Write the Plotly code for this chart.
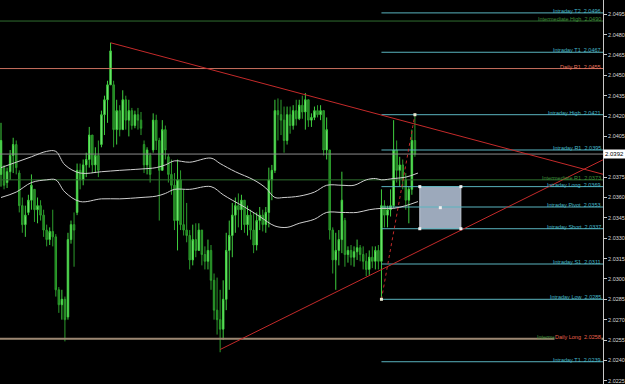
import plotly.graph_objects as go

# ---------------- data ----------------
candle_open = [2.0377,2.0382,2.0371,2.0379,2.0391,2.0399,2.0378,2.0354,2.0340,2.0349,
               2.0358,2.0366,2.0351,2.0354,2.0347,2.0336,2.0329,2.0335,2.0331,2.0292,
               2.0281,2.0285,2.0272,2.0329,2.0340,2.0349,2.0380,2.0373,2.0384,2.0388,
               2.0406,2.0384,2.0391,2.0399,2.0421,2.0432,2.0443,2.0443,2.0410,2.0424,
               2.0410,2.0432,2.0417,2.0424,2.0413,2.0421,2.0417,2.0399,2.0384,2.0391,
               2.0395,2.0417,2.0402,2.0380,2.0410,2.0390,2.0377,2.0369,2.0343,2.0373,
               2.0340,2.0336,2.0332,2.0314,2.0329,2.0321,2.0336,2.0318,2.0313,2.0321,
               2.0299,2.0277,2.0270,2.0263,2.0285,2.0321,2.0332,2.0347,2.0354,2.0351,
               2.0358,2.0340,2.0347,2.0336,2.0325,2.0343,2.0347,2.0340,2.0349,2.0373,
               2.0380,2.0424,2.0421,2.0417,2.0402,2.0421,2.0413,2.0424,2.0418,2.0428,
               2.0423,2.0432,2.0417,2.0419,2.0424,2.0421,2.0424,2.0395,2.0395,2.0336,
               2.0314,2.0321,2.0329,2.0343,2.0318,2.0321,2.0316,2.0320,2.0323,2.0318,
               2.0313,2.0307,2.0316,2.0313,2.0321,2.0313,2.0354,2.0347,2.0351,2.0354,
               2.0395,2.0380,2.0384,2.0373,2.0358,2.0366,2.0402]
candle_high = [2.0415,2.0384,2.0382,2.0395,2.0404,2.0402,2.0380,2.0360,2.0354,2.0362,
               2.0377,2.0366,2.0360,2.0358,2.0351,2.0340,2.0338,2.0351,2.0333,2.0294,
               2.0292,2.0287,2.0334,2.0343,2.0349,2.0385,2.0385,2.0388,2.0393,2.0412,
               2.0406,2.0397,2.0402,2.0424,2.0435,2.0446,2.0474,2.0446,2.0432,2.0428,
               2.0439,2.0435,2.0432,2.0426,2.0424,2.0426,2.0423,2.0402,2.0397,2.0393,
               2.0422,2.0421,2.0404,2.0417,2.0413,2.0392,2.0388,2.0378,2.0388,2.0380,
               2.0366,2.0356,2.0336,2.0340,2.0341,2.0341,2.0336,2.0324,2.0329,2.0325,
               2.0304,2.0301,2.0292,2.0299,2.0334,2.0343,2.0356,2.0360,2.0363,2.0362,
               2.0358,2.0354,2.0351,2.0349,2.0349,2.0353,2.0351,2.0353,2.0382,2.0384,
               2.0432,2.0433,2.0432,2.0427,2.0427,2.0427,2.0428,2.0432,2.0432,2.0435,
               2.0437,2.0432,2.0422,2.0427,2.0428,2.0428,2.0424,2.0419,2.0395,2.0338,
               2.0334,2.0336,2.0379,2.0345,2.0324,2.0325,2.0324,2.0329,2.0325,2.0324,
               2.0319,2.0321,2.0324,2.0324,2.0325,2.0366,2.0358,2.0354,2.0366,2.0417,
               2.0402,2.0390,2.0388,2.0378,2.0368,2.0410,2.0421]
candle_low = [2.0368,2.0366,2.0367,2.0373,2.0378,2.0377,2.0349,2.0334,2.0331,2.0347,
              2.0351,2.0342,2.0341,2.0343,2.0331,2.0324,2.0325,2.0324,2.0287,2.0275,
              2.0270,2.0254,2.0270,2.0326,2.0309,2.0347,2.0366,2.0369,2.0375,2.0382,
              2.0378,2.0378,2.0375,2.0397,2.0406,2.0415,2.0443,2.0397,2.0399,2.0405,
              2.0410,2.0410,2.0405,2.0410,2.0411,2.0410,2.0406,2.0378,2.0377,2.0371,
              2.0393,2.0395,2.0343,2.0380,2.0388,2.0371,2.0362,2.0336,2.0321,2.0336,
              2.0332,2.0327,2.0307,2.0310,2.0316,2.0321,2.0310,2.0307,2.0307,2.0292,
              2.0270,2.0259,2.0246,2.0255,2.0277,2.0292,2.0316,2.0334,2.0338,2.0336,
              2.0334,2.0332,2.0329,2.0319,2.0321,2.0336,2.0335,2.0334,2.0338,2.0358,
              2.0378,2.0402,2.0406,2.0393,2.0399,2.0407,2.0410,2.0413,2.0417,2.0418,
              2.0410,2.0412,2.0412,2.0417,2.0419,2.0417,2.0391,2.0388,2.0329,2.0304,
              2.0292,2.0310,2.0319,2.0309,2.0312,2.0310,2.0309,2.0314,2.0313,2.0307,
              2.0302,2.0303,2.0308,2.0307,2.0307,2.0285,2.0338,2.0338,2.0346,2.0352,
              2.0371,2.0368,2.0366,2.0351,2.0341,2.0362,2.0390]
candle_close = [2.0402,2.0369,2.0379,2.0391,2.0399,2.0382,2.0354,2.0340,2.0347,2.0358,
                2.0369,2.0351,2.0354,2.0347,2.0336,2.0329,2.0335,2.0331,2.0292,2.0281,
                2.0285,2.0270,2.0329,2.0340,2.0336,2.0380,2.0373,2.0384,2.0388,2.0406,
                2.0384,2.0391,2.0380,2.0421,2.0432,2.0443,2.0468,2.0410,2.0424,2.0410,
                2.0432,2.0417,2.0424,2.0413,2.0421,2.0417,2.0411,2.0384,2.0395,2.0377,
                2.0417,2.0402,2.0380,2.0410,2.0395,2.0377,2.0369,2.0343,2.0373,2.0340,
                2.0336,2.0332,2.0314,2.0329,2.0321,2.0336,2.0318,2.0313,2.0321,2.0299,
                2.0277,2.0270,2.0263,2.0285,2.0321,2.0332,2.0347,2.0354,2.0351,2.0358,
                2.0340,2.0347,2.0336,2.0325,2.0343,2.0347,2.0340,2.0349,2.0373,2.0380,
                2.0424,2.0421,2.0417,2.0402,2.0421,2.0413,2.0424,2.0418,2.0428,2.0423,
                2.0432,2.0417,2.0419,2.0424,2.0421,2.0424,2.0395,2.0410,2.0336,2.0314,
                2.0321,2.0329,2.0358,2.0318,2.0321,2.0316,2.0320,2.0323,2.0318,2.0313,
                2.0307,2.0316,2.0313,2.0321,2.0313,2.0354,2.0347,2.0351,2.0354,2.0395,
                2.0380,2.0384,2.0373,2.0358,2.0366,2.0402,2.0392]

# moving averages (bar index, price)
ma_slow_idx = [0,5,10,15,18,21,26,33,39,46,51,54,57,62,69,72,77,83,87,90,93,98,103,107,112,116,120,123,125,129,133,137]
ma_slow_val = [2.0382,2.0386,2.0390,2.0394,2.0394,2.0384,2.0378,2.0379,2.0380,2.0381,2.0382,2.0384,2.0387,2.0386,2.0389,2.0385,
               2.0379,2.0373,2.0367,2.0360,2.0360,2.0361,2.0364,2.0369,2.0369,2.0369,2.0373,2.0374,2.0373,2.0374,2.0375,2.0378]
ma_fast_idx = [0,5,10,15,18,21,26,33,39,46,51,54,57,62,69,73,76,80,85,90,94,98,103,107,112,117,121,125,129,133,137]
ma_fast_val = [2.0360,2.0364,2.0371,2.0373,2.0373,2.0364,2.0357,2.0359,2.0359,2.0360,2.0361,2.0363,2.0366,2.0366,2.0368,2.0362,
               2.0358,2.0353,2.0346,2.0339,2.0338,2.0341,2.0344,2.0349,2.0349,2.0349,2.0351,2.0352,2.0352,2.0354,2.0357]

# trend lines (bar index, price)
trend_upper_idx = [36, 198]
trend_upper_val = [2.0474, 2.0377]
trend_lower_idx = [72, 198]
trend_lower_val = [2.0248, 2.0388]
swing_idx = [125, 136]
swing_val = [2.0285, 2.0421]

# horizontal levels
level_names = ["Intraday T2", "Intermediate High", "Intraday T1", "Daily R1", "Intraday High",
               "Intraday R1", "Intermediate R1", "Intraday Long", "Intraday Pivot", "Intraday Short",
               "Intraday S1", "Intraday Low", "Intermediate Long", "Daily Long", "Intraday T1"]
level_values = [2.0496, 2.0490, 2.0467, 2.0455, 2.0421, 2.0395, 2.0373, 2.0368, 2.0353, 2.0337,
                2.0311, 2.0285, 2.0256, 2.0256, 2.0239]
level_texts = ["2.0496", "2.0490", "2.0467", "2.0455", "2.0421", "2.0395", "2.0373", "2.0369", "2.0353",
               "2.0337", "2.0311", "2.0285", "2.0258", "2.0258", "2.0239"]
level_kind = ["intraday", "intermediate", "intraday", "daily", "intraday", "intraday", "intermediate",
              "intraday", "intraday", "intraday", "intraday", "intraday", "intermediate", "dailylong", "intraday"]
intraday_start = 125

bid_price = 2.0392
bid_text = "2.0392"

box_idx = [137.6, 151.1]
box_val = [2.0337, 2.0368]

tick_vals = [2.0225, 2.0240, 2.0255, 2.0270, 2.0285, 2.0300, 2.0315, 2.0330, 2.0345, 2.0360,
             2.0375, 2.0390, 2.0405, 2.0420, 2.0435, 2.0450, 2.0465, 2.0480, 2.0495]
tick_text = ["2.0225", "2.0240", "2.0255", "2.0270", "2.0285", "2.0300", "2.0315", "2.0330", "2.0345", "2.0360",
             "2.0375", "", "2.0405", "2.0420", "2.0435", "2.0450", "2.0465", "2.0480", "2.0495"]

X_RANGE = [-0.33, 197.8]
Y_RANGE = [2.02226, 2.05055]
FONT = "Liberation Sans"

line_col = {"intraday": "#5ab4bf", "intermediate": "#2f6e2f", "daily": "#c9705f", "dailylong": "#9c8672"}
text_col = {"intraday": "#45b8c8", "intermediate": "#3f8f3a", "daily": "#e8745e", "dailylong": "#e8604e"}
line_w = {"intraday": 1, "intermediate": 1, "daily": 1, "dailylong": 2}

fig = go.Figure()

# horizontal level lines
for name, val, kind in zip(level_names, level_values, level_kind):
    x0 = intraday_start if kind == "intraday" else X_RANGE[0] - 1
    fig.add_trace(go.Scatter(x=[x0, X_RANGE[1] + 1], y=[val, val], mode="lines",
                             line=dict(color=line_col[kind], width=line_w[kind]),
                             hoverinfo="skip", showlegend=False))

# bid line
fig.add_trace(go.Scatter(x=[X_RANGE[0] - 1, X_RANGE[1] + 1], y=[bid_price, bid_price], mode="lines",
                         line=dict(color="#8c8c8c", width=1), hoverinfo="skip", showlegend=False))

# moving averages
fig.add_trace(go.Scatter(x=ma_slow_idx, y=ma_slow_val, mode="lines", line=dict(color="#cfcfcf", width=1, shape="spline"),
                         hoverinfo="skip", showlegend=False))
fig.add_trace(go.Scatter(x=ma_fast_idx, y=ma_fast_val, mode="lines", line=dict(color="#cfcfcf", width=1, shape="spline"),
                         hoverinfo="skip", showlegend=False))

# candles
idx = list(range(len(candle_open)))
fig.add_trace(go.Candlestick(x=idx, open=candle_open, high=candle_high, low=candle_low, close=candle_close,
                             increasing=dict(line=dict(color="#3fcf3f", width=1), fillcolor="#8cf58c"),
                             decreasing=dict(line=dict(color="#2c9c2c", width=1), fillcolor="#1f7f1f"),
                             hoverinfo="skip", showlegend=False))

# trend lines
fig.add_trace(go.Scatter(x=trend_upper_idx, y=trend_upper_val, mode="lines", line=dict(color="#c42a2a", width=1),
                         hoverinfo="skip", showlegend=False))
fig.add_trace(go.Scatter(x=trend_lower_idx, y=trend_lower_val, mode="lines", line=dict(color="#c42a2a", width=1),
                         hoverinfo="skip", showlegend=False))
fig.add_trace(go.Scatter(x=swing_idx, y=swing_val, mode="lines+markers", line=dict(color="#c42a2a", width=1, dash="dot"),
                         marker=dict(symbol="square", size=3, color="#e8e8d0"),
                         hoverinfo="skip", showlegend=False))

# box corners and center
bx = [box_idx[0], box_idx[1], box_idx[0], box_idx[1], (box_idx[0] + box_idx[1]) / 2]
by = [box_val[0], box_val[0], box_val[1], box_val[1], (box_val[0] + box_val[1]) / 2]
fig.add_trace(go.Scatter(x=bx, y=by, mode="markers", marker=dict(symbol="square", size=3, color="#f0f0f0"),
                         hoverinfo="skip", showlegend=False))

shapes = [dict(type="rect", xref="x", yref="y", x0=box_idx[0], x1=box_idx[1], y0=box_val[0], y1=box_val[1],
               fillcolor="#9ca9bb", line=dict(color="#c0c8d4", width=1), layer="below")]

annotations = []
for name, val, txt, kind in zip(level_names, level_values, level_texts, level_kind):
    annotations.append(dict(xref="paper", yref="y", x=1, y=val, xanchor="right", yanchor="bottom",
                            xshift=-1, yshift=-2, showarrow=False, borderpad=0,
                            text=f"{name}  {txt}", bgcolor="#000000" if kind == "dailylong" else None,
                            font=dict(family=FONT, size=5.5, color=text_col[kind])))
annotations.append(dict(xref="paper", yref="y", x=1, y=bid_price, xanchor="left", yanchor="middle",
                        showarrow=False, text=bid_text, bgcolor="#ffffff", borderpad=1,
                        font=dict(family=FONT, size=6, color="#000000")))

fig.update_layout(
    width=625, height=384,
    margin=dict(l=0, r=22, t=0, b=0),
    paper_bgcolor="#000000", plot_bgcolor="#000000",
    shapes=shapes, annotations=annotations,
    xaxis=dict(range=X_RANGE, visible=False, rangeslider=dict(visible=False), fixedrange=True),
    yaxis=dict(range=Y_RANGE, side="right", tickvals=tick_vals, ticktext=tick_text,
               tickfont=dict(family=FONT, size=5.5, color="#d8d8d8"),
               ticks="outside", ticklen=3, tickcolor="#c8c8c8", showgrid=False, zeroline=False,
               showline=True, linecolor="#c8c8c8", linewidth=1, automargin=False),
    showlegend=False,
)

fig.write_html("out.html")
